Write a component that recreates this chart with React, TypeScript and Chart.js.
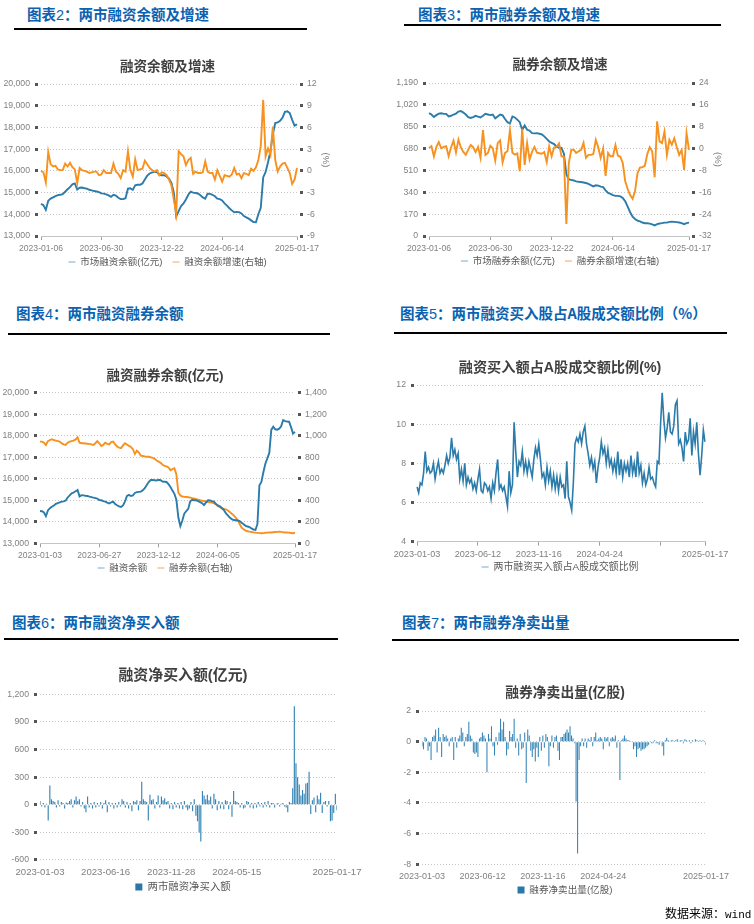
import React, { useEffect, useRef } from 'react';
import { Chart, registerables } from 'chart.js';

Chart.register(...registerables);

const FONT = 'Arial, "Liberation Sans", "Noto Sans CJK SC", sans-serif';
Chart.defaults.font.family = FONT;

const BLUE = '#2b7bab';
const ORANGE = '#f7911f';
const BLUE_PALE = '#b9d6e8';
const ORANGE_PALE = '#fbd3a6';
const BAR_BLUE = '#3584b5';
const LEGEND_BAR = '#2a78a8';
const TICK_GRAY = '#808080';

// ---------- Chart 2: 融资余额及增速 (weekly) ----------
const c2TickIdx = [0, 25, 50, 75, 106];
const c2TickLabels = ['2023-01-06', '2023-06-30', '2023-12-22', '2024-06-14', '2025-01-17'];
const c2Balance = [
  14480, 14420, 14200, 14620, 14720, 14780, 14840, 14880, 14900, 14930,
  15040, 15150, 15250, 15380, 15420, 15140, 15220, 15230, 15200, 15180,
  15130, 15100, 15070, 15050, 15020, 14960, 14950, 14920, 14870, 14800,
  14900, 14860, 14760, 14700, 14700, 14740, 15180, 15200, 15120, 15330,
  15360, 15360, 15420, 15600, 15780, 15880, 15930, 15940, 15940, 15820,
  15800, 15800, 15740, 15640, 15450, 15000, 13900, 14150, 14380, 14500,
  14680, 14900, 15040, 15000, 14980, 14960, 14880, 14780, 14720, 14950,
  14940, 14900, 14830, 14720, 14700, 14640, 14500, 14400, 14280, 14180,
  14090, 14110, 14100, 14040, 13920, 13860, 13800, 13720, 13640, 13630,
  14000, 14300, 15700, 15950, 16400, 16900, 17700, 18200, 18230, 18300,
  18450, 18720, 18740, 18660, 18350, 18080, 18140,
];
const c2Growth = [
  0, -0.2, -1.6, 2.6, 0.9, 0.6, 0.7, 0.2, 0.1, 0.1,
  1.0, 0.6, 1.1, 0.5, 0.2, -1.7, 0.4, 0.1, 0, -0.1,
  -0.3, -0.2, -0.1, -0.1, -0.6, -0.5, 0.1, -0.3, -0.3, -0.3,
  1.0, -0.1, -0.4, -1.0, 0.1, -0.1, 2.7, 0.1, -0.8, 1.6,
  0.1, 0.2, 0.3, 1.4, 0.9, 0.4, 0.1, -0.1, 0.1, -0.6,
  -0.2, -0.3, -0.6, -1.2, -2.0, -4.0, -5.9, 2.7, 2.3, 2.0,
  0.8, 1.5, 1.8, -0.4, -0.1, -0.3, -0.3, -0.2, 1.3, -0.1,
  -0.3, -0.3, -1.2, 0.1, -0.7, -1.5, -0.6, -0.7, -0.8, -0.5,
  0.4, -0.5, -0.4, -1.0, -0.3, -0.4, -0.6, 0.3, 0.0, 0.5,
  1.5, 3.4, 9.8, 2.0, 3.1, 2.2, 6.1, 1.5, -0.1, 0.6,
  1.0, 1.1, 0.4, -0.3, -1.8, -1.2, 0.4,
];

// ---------- Chart 3: 融券余额及增速 (weekly) ----------
const c3TickIdx = [0, 25, 50, 75, 106];
const c3TickLabels = ['2023-01-06', '2023-06-30', '2023-12-22', '2024-06-14', '2025-01-17'];
const c3Balance = [
  956, 945, 925, 940, 952, 955, 950, 950, 930, 935,
  945, 952, 968, 972, 960, 945, 925, 918, 925, 935,
  928, 922, 935, 950, 945, 940, 945, 915, 930, 945,
  938, 910, 885, 875, 930, 922, 905, 885, 825, 860,
  826, 820, 800, 798, 800, 795, 790, 775, 755, 735,
  725, 715, 695, 688, 685, 640, 480, 440, 436, 432,
  425, 422, 420, 416, 412, 405, 395, 386, 394, 392,
  384, 380, 355, 335, 328, 318, 312, 312, 308, 295,
  270, 228, 185, 150, 132, 120, 114, 105, 99, 99,
  96, 90, 82, 92, 97, 100, 104, 104, 110, 112,
  110, 108, 105, 100, 92, 100, 104,
];
const c3Growth = [
  0.2, 0.9, -2.9, 0.6, 2.4, 0.1, 0.6, 0.9, -2.8, 0.5,
  2.9, -1.4, 3.3, 0.4, -1.2, -2.3, -0.4, 1.3, 0.5, -1.3,
  0.6, -3.4, 6.8, -2.3, -1.6, 1.0, 0.1, -4.4, 2.0, 3.0,
  -5.0, -1.6, -1.0, 6.8, -1.5, -2.2, -1.8, -8.3, 7.2, -6.0,
  2.0, -4.0, -1.2, 0.6, -1.5, -1.7, -1.9, -1.3, -5.0, 0.8,
  -2.8, 0.4, 0.6, 1.9, -2.8, -3.0, -27.6, -5.3, -0.5, -0.4,
  -1.6, -1.0, -0.5, 2.1, -3.4, -2.3, -2.3, -2.0, 3.2, 0.5,
  -3.4, 0.1, -10.0, -1.6, -2.8, -2.8, 1.3, -2.6, -3.0, -5.3,
  -12.0, -14.8, -17.0, -18.4, -15.5, -9.0, -7.0, -6.8, -6.3, -2.0,
  0.5, -1.0, -10.5, 10.0, 2.6, 2.0, 6.2, -2.3, 3.2, 1.4,
  3.8, 0.6, -2.3, -0.5, -7.8, 5.6, -0.5,
];

// ---------- Chart 4: 融资融券余额 ----------
const c4TickIdx = [0, 30, 60, 90, 129];
const c4TickLabels = ['2023-01-03', '2023-06-27', '2023-12-12', '2024-06-05', '2025-01-17'];
const c4Margin = [
  14500, 14490, 14430, 14260, 14530, 14630, 14700, 14760, 14830, 14870,
  14900, 14940, 14950, 14990, 15130, 15230, 15320, 15360, 15420, 15480,
  15180, 15240, 15230, 15210, 15200, 15170, 15150, 15120, 15100, 15080,
  15010, 15000, 14960, 14940, 14890, 14850, 14900, 14940, 14830, 14770,
  14720, 14690, 14760, 14950, 15200, 15250, 15200, 15230, 15340, 15380,
  15390, 15400, 15460, 15560, 15710, 15850, 15940, 15940, 15930, 15920,
  15950, 15930, 15870, 15860, 15850, 15750, 15620, 15450, 15300, 15010,
  14200, 13800, 14060, 14380, 14500, 14600, 14950, 15020, 15000, 15000,
  14960, 14910, 14860, 14780, 14900, 15000, 14990, 14960, 14940, 14820,
  14760, 14720, 14640, 14550, 14400, 14300, 14200, 14120, 14080, 14070,
  14060, 14030, 13950, 13880, 13810, 13780, 13750, 13690, 13640, 13620,
  13900, 15700, 15850, 16300, 16700, 16950, 17200, 18270, 18420, 18300,
  18280, 18330, 18440, 18730, 18680, 18660, 18650, 18400, 18100, 18180,
];
const c4Short = [
  945, 945, 935, 914, 950, 960, 968, 960, 955, 950,
  945, 929, 920, 914, 935, 945, 950, 955, 966, 985,
  935, 930, 930, 928, 925, 924, 920, 915, 930, 950,
  930, 905, 915, 935, 925, 920, 940, 945, 920, 900,
  890, 885, 910, 930, 918, 905, 895, 875, 830, 860,
  845, 815, 812, 808, 805, 806, 800, 795, 785, 770,
  760, 748, 730, 720, 715, 705, 680, 690, 698, 640,
  470, 445, 435, 432, 430, 428, 425, 420, 418, 410,
  405, 400, 396, 393, 388, 383, 380, 378, 372, 365,
  345, 335, 325, 320, 316, 305, 292, 275, 260, 240,
  215, 180, 145, 130, 118, 112, 108, 105, 101, 99,
  97, 95, 93, 95, 98, 99, 100, 101, 103, 105,
  106, 108, 106, 103, 101, 100, 99, 96, 93, 98,
];

// ---------- Chart 5: 融资买入额占A股成交额比例 ----------
const c5TickIdx = [0, 37, 74, 111, 148, 175];
const c5TickLabels = ['2023-01-03', '2023-06-12', '2023-11-16', '2024-04-24', '', '2025-01-17'];
const c5Ratio = [
  6.8, 6.5, 7.0, 6.9, 7.5, 8.6, 7.6, 7.8, 7.5, 7.6,
  8.0, 7.2, 7.7, 8.1, 7.5, 7.7, 7.5, 7.9, 8.4, 8.0,
  8.3, 9.3, 8.4, 8.7, 8.2, 8.5, 7.2, 7.7, 7.1, 8.0,
  6.9, 7.3, 7.0, 7.2, 6.7, 7.0, 6.6, 7.2, 7.7, 6.6,
  6.5, 7.0, 6.9, 6.6, 6.8, 6.2, 7.0, 6.6, 7.5, 8.2,
  6.7, 6.9, 6.6, 6.8, 6.3, 5.8, 7.6, 6.5, 6.9, 10.1,
  8.6, 7.3, 8.1, 7.9, 8.6, 7.6, 8.1, 7.5, 8.1, 7.7,
  7.3, 8.2, 8.8, 8.4, 9.0, 8.2, 7.3, 7.5, 6.9, 7.8,
  7.1, 7.6, 6.8, 7.4, 6.7, 7.3, 6.6, 7.3, 6.8, 6.9,
  6.2, 8.1, 6.3, 6.0, 5.6, 7.0, 9.0, 9.3, 9.1, 9.5,
  9.0, 9.6, 9.9, 9.0, 8.5, 7.9, 8.3, 7.7, 8.1, 7.0,
  7.8, 8.3, 9.1, 8.5, 8.8, 8.0, 8.7, 7.9, 8.2, 7.6,
  8.1, 7.5, 8.6, 7.4, 8.2, 7.3, 8.0, 7.6, 8.0, 7.3,
  8.4, 7.5, 8.0, 7.3, 8.6, 7.5, 7.9, 7.0, 7.5, 6.9,
  7.2, 7.8, 7.2, 7.3, 7.0, 6.8, 8.1, 8.0, 10.0, 11.6,
  10.2, 9.3, 9.8, 10.6, 9.6, 9.5, 9.9, 11.0, 11.2, 9.0,
  9.2, 8.8, 8.1, 9.6, 9.0, 9.2, 10.3, 8.4, 9.6, 9.0,
  10.1, 8.5, 7.4, 8.4, 9.7, 9.1,
];

// ---------- Chart 6: 融资净买入额 ----------
const c6TickIdx = [0, 40, 80, 120, 181];
const c6TickLabels = ['2023-01-03', '2023-06-16', '2023-11-28', '2024-05-15', '2025-01-17'];
const c6NetBuy = [
  40, -20, 20, -30, 10, -170, 210, 60, 40, 30,
  -30, 50, -20, 30, 20, -40, 25, 20, 40, 60,
  -30, 50, 90, 40, 60, -20, 30, -40, -80, 90,
  -30, 20, -40, 30, -30, 20, -20, 30, -40, 20,
  50, -80, 30, -20, 20, -40, 20, -30, 30, -20,
  60, 40, -30, 30, -40, 20, -70, 40, 30, 50,
  -60, 40, 250, 60, 40, 30, -170, 110, 50, 60,
  -40, 30, 100, -30, 90, 50, 70, 30, 40, -40,
  20, -50, 30, -30, 20, -40, 30, -50, 40, -30,
  -60, -40, 30, -70, 60, -120, -180, -300, -400, 150,
  100, 60, 110, 50, 90, -40, 120, 60, -60, 40,
  -40, 30, -50, 50, 40, -50, 30, -130, 150, 40,
  30, 20, -30, 20, -40, -30, 40, 30, -30, 20,
  -40, 20, -30, 30, -20, 20, -30, 30, -20, 40,
  -30, 20, 20, -30, 10, 20, -20, 10, 20, -20,
  -30, -80, 30, 20, 180, 1070, 450, 300, 220, 100,
  160, 120, 230, 240, 360, -100, 50, 80, -80, 100,
  60, 130, -90, 30, 40, -20, 40, -180, -170, -90,
  120, -60,
];

// ---------- Chart 7: 融券净卖出量 ----------
const c7TickIdx = [0, 40, 80, 120, 188];
const c7TickLabels = ['2023-01-03', '2023-06-12', '2023-11-16', '2024-04-24', '2025-01-17'];
const c7NetSell = [
  -0.3, -0.5, 0.3, 0.2, -0.6, -0.3, -1.2, 0.3, 0.4, 0.8,
  -0.7, 0.9, 0.3, -1.0, 0.5, 0.3, 0.4, 0.2, -0.3, 0.2,
  0.3, -1.2, 0.3, -0.4, 0.2, 0.4, 0.9, 0.6, -0.3, 0.3,
  0.5, 1.3, 0.4, 0.2, -0.7, -0.8, -0.7, -1.0, 0.2, 0.3,
  0.6, 0.4, 0.2, -2.0, 0.5, 0.2, 1.0, -0.3, -0.9, 0.3,
  -0.2, 0.6, 1.5, 0.8, 1.3, 0.3, -0.9, -0.5, 0.7, 0.3,
  0.5, 1.5, -0.4, 0.2, -0.9, 0.5, -0.5, -0.4, 0.6, -2.7,
  0.8, 0.4, -0.6, -1.0, -0.5, -1.3, -0.4, -1.0, 0.3, -0.6,
  0.4, -0.4, 0.5, 0.3, -1.6, -0.3, 0.4, -0.4, 0.3, 0.4,
  -0.6, -1.2, 0.3, 0.3, 0.5, 0.6, 0.8, 0.6, 1.0, 0.4,
  0.2, -0.1, -3.9, -7.3, -1.2, -0.3, 0.2, -0.3, 0.2, -0.4,
  0.2, 0.1, 0.3, -0.3, 0.3, 0.6, 0.1, 0.2, 0.3, 0.2,
  -0.5, 0.3, 0.2, 0.3, -0.3, 0.2, 0.3, 0.2, 0.4, -0.4,
  0.1, -2.5, 0.1, 0.2, 0.4, 0.2, 0.1, 0.1, 0.05, 0.05,
  -0.5, -0.3, -1.0, -0.5, -0.4, -0.6, -0.5, -0.5, -0.4, -0.3,
  -0.2, 0.05, -0.1, -0.1, 0.1, -0.1, -0.1, -0.2, 0.05, -0.3,
  -0.9, 0.1, 0.25, 0.1, 0.05, 0.1, 0.1, 0.05, 0.1, 0.15,
  0.05, 0.1, 0.1, -0.1, 0.15, 0.1, 0.05, 0.1, -0.1, 0.1,
  0.05, 0.15, 0.1, 0.05, 0.1, 0.05, 0.1, 0.05, -0.2,
];

// ---------- Headers ----------
const headers = [
  { x: 27, cy: 14, pre: '图表', num: '2', post: '：两市融资余额及增速' },
  { x: 418, cy: 14, pre: '图表', num: '3', post: '：两市融券余额及增速' },
  { x: 16, cy: 313, pre: '图表', num: '4', post: '：两市融资融券余额' },
  { x: 400, cy: 313, pre: '图表', num: '5', post: '：两市融资买入股占A股成交额比例（%）' },
  { x: 12, cy: 622, pre: '图表', num: '6', post: '：两市融资净买入额' },
  { x: 402, cy: 622, pre: '图表', num: '7', post: '：两市融券净卖出量' },
];
const rules = [
  { x1: 14, x2: 307, y: 29 },
  { x1: 404, x2: 721, y: 25 },
  { x1: 8, x2: 330, y: 334 },
  { x1: 394, x2: 727, y: 333 },
  { x1: 4, x2: 338, y: 639 },
  { x1: 392, x2: 739, y: 640 },
];

type Rect = { x: number; y: number; w: number; h: number };
type Series = { label: string; data: number[]; color: string; pale: string; axis: string; order: number; width?: number };
type Spec = {
  kind: 'line' | 'bar';
  rect: Rect;
  area: { l: number; r: number; t: number; b: number };
  padL: number;
  rightEdge: number;
  title: string; titleCY: number; titleSize: number;
  legendCY: number; legendSize: number;
  tickIdx: number[]; tickLabels: string[]; xFont: number; xMarks: boolean;
  left: { min: number; max: number; step: number };
  right?: { min: number; max: number; step: number; title?: string };
  series: Series[];
};

function buildConfig(s: Spec): any {
  const lhT = s.titleSize * 1.2;
  const padT = s.titleCY - lhT / 2 - s.rect.y;
  const titlePadB = s.area.t - (s.titleCY + lhT / 2);
  const lp = 10;
  const itemH = s.legendSize;
  const legendH = itemH + lp + 10;
  const wantLegendTop = s.legendCY - lp - itemH / 2 - s.rect.y; // canvas-relative
  const xH = 4 + 3 + s.xFont * 1.2 + 3; // covers labels (labels are clipped to the axis box)
  const naturalLegendBottom = s.area.b + xH + legendH;
  const padB = Math.max(0, s.rect.y + s.rect.h - naturalLegendBottom);
  const leftW = s.area.l - s.rect.x - s.padL;
  const rightW = s.rightEdge - s.area.r;
  const padR = s.rect.x + s.rect.w - s.rightEdge;
  const labels = s.series[0].data.map((_, i) => i);
  const isLine = s.kind === 'line';

  const scales: any = {
    x: {
      type: 'category',
      offset: false,
      afterBuildTicks: (sc: any) => { sc.ticks = s.tickIdx.map((v) => ({ value: v })); },
      afterFit: (sc: any) => { sc.height = xH; },
      ticks: {
        autoSkip: false, maxRotation: 0, minRotation: 0, padding: 3,
        color: TICK_GRAY, font: { size: s.xFont },
        callback: (_v: any, i: number) => s.tickLabels[i],
      },
      grid: { display: s.xMarks, drawOnChartArea: false, drawTicks: true, tickLength: 4, tickColor: '#a0a0a0', tickWidth: 1 },
      border: { display: s.xMarks, color: '#c4c4c4', width: 1 },
    },
    y: {
      type: 'linear', position: 'left',
      min: s.left.min, max: s.left.max,
      afterFit: (sc: any) => { sc.width = leftW; },
      ticks: { stepSize: s.left.step, color: TICK_GRAY, font: { size: 8.7 }, padding: 5 },
      grid: {
        color: '#c8c8c8', lineWidth: 1, drawTicks: true, tickLength: 6, tickWidth: 3,
        tickColor: '#555555', tickBorderDash: [3, 100],
      },
      border: { display: false, dash: [1, 2] },
    },
  };
  if (s.right) {
    scales.y1 = {
      type: 'linear', position: 'right',
      min: s.right.min, max: s.right.max,
      afterFit: (sc: any) => { sc.width = rightW; },
      ticks: { stepSize: s.right.step, color: TICK_GRAY, font: { size: 8.7 }, padding: 4 },
      grid: {
        display: true, drawOnChartArea: false, drawTicks: true, tickLength: 6, tickWidth: 3,
        tickColor: '#555555', tickBorderDash: [3, 3], tickBorderDashOffset: 3,
      },
      border: { display: false },
      title: s.right.title
        ? { display: true, text: s.right.title, color: TICK_GRAY, font: { size: 9.5 }, padding: { top: 4, bottom: 4 } }
        : { display: false },
    };
  } else {
    scales.yr = {
      type: 'linear', position: 'right', display: true,
      afterFit: (sc: any) => { sc.width = rightW; },
      ticks: { display: false },
      grid: { display: false, drawTicks: false },
      border: { display: false },
    };
  }

  const datasets = s.series.map((ser) =>
    isLine
      ? {
          type: 'line', label: ser.label, data: ser.data,
          borderColor: ser.color, backgroundColor: ser.color,
          borderWidth: ser.width ?? 1.9, pointRadius: 0, tension: 0,
          yAxisID: ser.axis, order: ser.order,
        }
      : {
          type: 'bar', label: ser.label, data: ser.data,
          backgroundColor: ser.color, borderWidth: 0,
          barPercentage: 1, categoryPercentage: 0.7, yAxisID: ser.axis, order: ser.order,
        }
  );

  const shiftLegend = {
    id: 'shiftLegend',
    afterLayout(chart: any) {
      const lg = chart.legend;
      if (!lg) return;
      const d = lg.top - wantLegendTop;
      lg.top -= d;
      lg.bottom -= d;
    },
  };

  return {
    type: s.kind,
    data: { labels, datasets },
    plugins: [shiftLegend],
    options: {
      responsive: false,
      animation: false,
      devicePixelRatio: 1,
      events: [],
      layout: { padding: { left: s.padL, right: padR, top: padT, bottom: padB } },
      scales,
      plugins: {
        tooltip: { enabled: false },
        title: {
          display: true, text: s.title, color: '#404040',
          font: { size: s.titleSize, weight: 'bold', lineHeight: 1.2 },
          padding: { top: 0, bottom: titlePadB },
        },
        legend: {
          display: true, position: 'bottom',
          labels: {
            color: '#595959', font: { size: s.legendSize }, padding: lp,
            usePointStyle: isLine, pointStyleWidth: 7,
            boxWidth: 7, boxHeight: isLine ? s.legendSize : 7,
            generateLabels: (chart: any) => {
              const items = (Chart.defaults.plugins.legend.labels as any).generateLabels(chart);
              items.sort((a: any, b: any) => a.datasetIndex - b.datasetIndex);
              return items.map((it: any) => {
                const ser = s.series[it.datasetIndex];
                return isLine
                  ? { ...it, fillStyle: ser.pale, strokeStyle: ser.pale, lineWidth: 2, pointStyle: 'line' }
                  : { ...it, fillStyle: LEGEND_BAR, strokeStyle: LEGEND_BAR, lineWidth: 0 };
              });
            },
          },
        },
      },
    },
  };
}

const specs: Spec[] = [
  {
    kind: 'line', rect: { x: 0, y: 55, w: 377, h: 237 },
    area: { l: 41, r: 297, t: 84, b: 236 }, padL: 0, rightEdge: 335,
    title: '融资余额及增速', titleCY: 67, titleSize: 13.6,
    legendCY: 262, legendSize: 9.5,
    tickIdx: c2TickIdx, tickLabels: c2TickLabels, xFont: 8.6, xMarks: true,
    left: { min: 13000, max: 20000, step: 1000 },
    right: { min: -9, max: 12, step: 3, title: '(%)' },
    series: [
      { label: '市场融资余额(亿元)', data: c2Balance, color: BLUE, pale: BLUE_PALE, axis: 'y', order: 1 },
      { label: '融资余额增速(右轴)', data: c2Growth, color: ORANGE, pale: ORANGE_PALE, axis: 'y1', order: 0 },
    ],
  },
  {
    kind: 'line', rect: { x: 377, y: 55, w: 377, h: 237 },
    area: { l: 429, r: 689, t: 83, b: 236 }, padL: 16, rightEdge: 727,
    title: '融券余额及增速', titleCY: 65, titleSize: 13.6,
    legendCY: 261, legendSize: 9.5,
    tickIdx: c3TickIdx, tickLabels: c3TickLabels, xFont: 8.6, xMarks: true,
    left: { min: 0, max: 1190, step: 170 },
    right: { min: -32, max: 24, step: 8, title: '(%)' },
    series: [
      { label: '市场融券余额(亿元)', data: c3Balance, color: BLUE, pale: BLUE_PALE, axis: 'y', order: 1 },
      { label: '融券余额增速(右轴)', data: c3Growth, color: ORANGE, pale: ORANGE_PALE, axis: 'y1', order: 0 },
    ],
  },
  {
    kind: 'line', rect: { x: 0, y: 350, w: 377, h: 247 },
    area: { l: 40, r: 295, t: 392.7, b: 543.3 }, padL: 0, rightEdge: 330,
    title: '融资融券余额(亿元)', titleCY: 376, titleSize: 13.5,
    legendCY: 568, legendSize: 9.5,
    tickIdx: c4TickIdx, tickLabels: c4TickLabels, xFont: 8.6, xMarks: true,
    left: { min: 13000, max: 20000, step: 1000 },
    right: { min: 0, max: 1400, step: 200 },
    series: [
      { label: '融资余额', data: c4Margin, color: BLUE, pale: BLUE_PALE, axis: 'y', order: 0 },
      { label: '融券余额(右轴)', data: c4Short, color: ORANGE, pale: ORANGE_PALE, axis: 'y1', order: 1 },
    ],
  },
  {
    kind: 'line', rect: { x: 377, y: 350, w: 377, h: 247 },
    area: { l: 417, r: 705, t: 385, b: 541.7 }, padL: 19, rightEdge: 724,
    title: '融资买入额占A股成交额比例(%)', titleCY: 368, titleSize: 14.2,
    legendCY: 567, legendSize: 9.9,
    tickIdx: c5TickIdx, tickLabels: c5TickLabels, xFont: 9.1, xMarks: true,
    left: { min: 4, max: 12, step: 2 },
    series: [
      { label: '两市融资买入额占A股成交额比例', data: c5Ratio, color: BLUE, pale: BLUE_PALE, axis: 'y', order: 0, width: 1.6 },
    ],
  },
  {
    kind: 'bar', rect: { x: 0, y: 655, w: 377, h: 265 },
    area: { l: 40, r: 337, t: 694.3, b: 860 }, padL: 0, rightEdge: 366,
    title: '融资净买入额(亿元)', titleCY: 676, titleSize: 14.9,
    legendCY: 887, legendSize: 10.4,
    tickIdx: c6TickIdx, tickLabels: c6TickLabels, xFont: 9.6, xMarks: false,
    left: { min: -600, max: 1200, step: 300 },
    series: [
      { label: '两市融资净买入额', data: c6NetBuy, color: BAR_BLUE, pale: BAR_BLUE, axis: 'y', order: 0 },
    ],
  },
  {
    kind: 'bar', rect: { x: 377, y: 655, w: 377, h: 265 },
    area: { l: 422, r: 706, t: 711, b: 864.3 }, padL: 27, rightEdge: 726,
    title: '融券净卖出量(亿股)', titleCY: 693, titleSize: 13.8,
    legendCY: 890, legendSize: 9.6,
    tickIdx: c7TickIdx, tickLabels: c7TickLabels, xFont: 9.0, xMarks: false,
    left: { min: -8, max: 2, step: 2 },
    series: [
      { label: '融券净卖出量(亿股)', data: c7NetSell, color: BAR_BLUE, pale: BAR_BLUE, axis: 'y', order: 0 },
    ],
  },
];

function ChartCanvas({ spec }: { spec: Spec }) {
  const ref = useRef<HTMLCanvasElement>(null);
  useEffect(() => {
    if (!ref.current) return;
    const chart = new Chart(ref.current, buildConfig(spec));
    return () => chart.destroy();
  }, [spec]);
  const r = spec.rect;
  return (
    <canvas
      ref={ref}
      width={r.w}
      height={r.h}
      style={{ position: 'absolute', left: r.x, top: r.y, width: r.w, height: r.h }}
    />
  );
}

export default function App() {
  useEffect(() => {
    document.body.style.margin = '0';
  }, []);
  return (
    <div style={{ position: 'absolute', left: 0, top: 0, width: 754, height: 924, background: '#ffffff', overflow: 'hidden' }}>
      {headers.map((h, i) => (
        <div
          key={'h' + i}
          style={{
            position: 'absolute', left: h.x, top: h.cy - 10, height: 20, lineHeight: '20px',
            fontSize: 14.5, fontWeight: 700, color: '#0b62b0', whiteSpace: 'nowrap',
            fontFamily: '"Noto Sans CJK SC", sans-serif',
          }}
        >
          {h.pre}
          <span style={{ fontWeight: 400, fontFamily: '"Liberation Sans", Arial, sans-serif' }}>{h.num}</span>
          {h.post}
        </div>
      ))}
      {rules.map((r, i) => (
        <div
          key={'r' + i}
          style={{ position: 'absolute', left: r.x1, top: r.y - 1, width: r.x2 - r.x1, height: 2, background: '#000' }}
        />
      ))}
      {specs.map((s, i) => (
        <ChartCanvas key={'c' + i} spec={s} />
      ))}
      <div
        style={{
          position: 'absolute', left: 665, top: 904, height: 18, lineHeight: '18px', whiteSpace: 'nowrap',
          fontSize: 12, color: '#000', fontFamily: '"Noto Sans CJK SC", sans-serif',
        }}
      >
        数据来源：
        <span style={{ fontFamily: '"Liberation Mono", "DejaVu Sans Mono", monospace', fontSize: 11 }}>wind</span>
      </div>
    </div>
  );
}
